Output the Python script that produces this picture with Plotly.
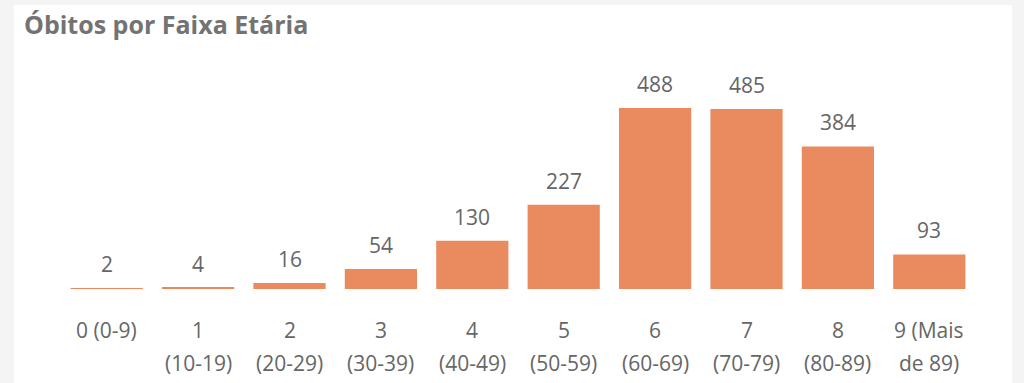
import plotly.graph_objects as go

categories = ["0", "1", "2", "3", "4", "5", "6", "7", "8", "9"]
deaths = [2, 4, 16, 54, 130, 227, 488, 485, 384, 93]
tick_line1 = ["0 (0-9)", "1", "2", "3", "4", "5", "6", "7", "8", "9 (Mais"]
tick_line2 = ["", "(10-19)", "(20-29)", "(30-39)", "(40-49)", "(50-59)",
              "(60-69)", "(70-79)", "(80-89)", "de 89)"]

BAR = "#E98A5F"
TXT = "#666666"
FONT = "Open Sans"
FS = 21

fig = go.Figure(go.Bar(x=categories, y=deaths, marker_color=BAR,
                       marker_line_width=0, hoverinfo="x+y"))

annotations = []
for c, v in zip(categories, deaths):
    annotations.append(dict(x=c, y=v, xref="x", yref="y", text=str(v),
                            showarrow=False, yanchor="middle", yshift=24,
                            font=dict(family=FONT, size=FS, color=TXT)))
for c, l1, l2 in zip(categories, tick_line1, tick_line2):
    annotations.append(dict(x=c, y=-0.179, xref="x", yref="paper", text=l1,
                            showarrow=False, yanchor="middle",
                            font=dict(family=FONT, size=FS, color=TXT)))
    if l2:
        annotations.append(dict(x=c, y=-0.323, xref="x", yref="paper", text=l2,
                                showarrow=False, yanchor="middle",
                                font=dict(family=FONT, size=FS, color=TXT)))

fig.update_layout(
    width=1024, height=383,
    margin=dict(l=61, r=49, t=60, b=94),
    paper_bgcolor="#F4F4F4",
    plot_bgcolor="rgba(0,0,0,0)",
    bargap=0.21,
    showlegend=False,
    title=dict(text="<b>Óbitos por Faixa Etária</b>", xref="container", yref="container",
               x=24/1024, xanchor="left", y=1-25/383, yanchor="middle",
               font=dict(family=FONT, size=25, color="#737373")),
    xaxis=dict(showticklabels=False, showgrid=False, zeroline=False, showline=False,
               fixedrange=True),
    yaxis=dict(range=[0, 617], visible=False, fixedrange=True),
    annotations=annotations,
    shapes=[dict(type="rect", xref="paper", yref="paper",
                 x0=(14-61)/914, x1=(1012-61)/914, y0=-0.42, y1=(289-5)/229,
                 fillcolor="white", line_width=0, layer="below")],
)

fig.write_html("out.html", config={"displayModeBar": False})
